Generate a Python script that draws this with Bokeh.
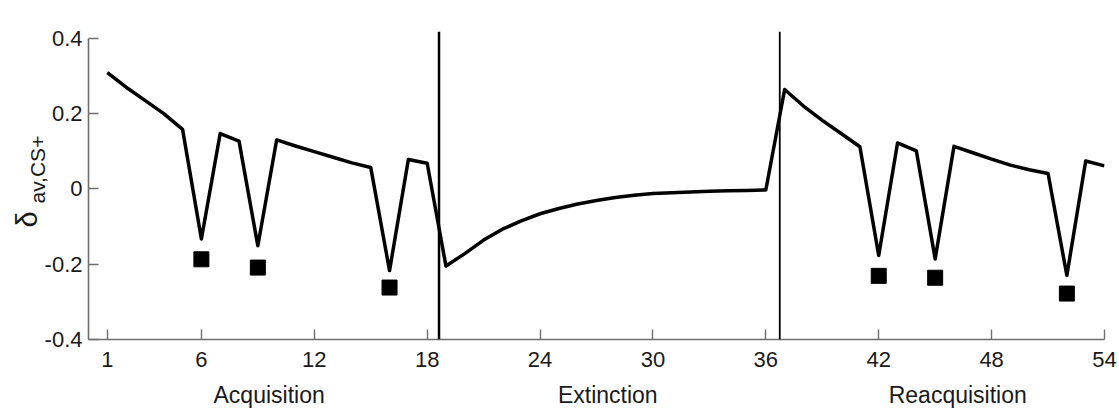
from bokeh.plotting import figure
from bokeh.models import Range1d, FixedTicker, Span, ColumnDataSource, LinearAxis, Title
from bokeh.embed import file_html
from bokeh.resources import INLINE

# ---- data ----
trials = list(range(1, 55))
delta_values = [
    0.309, 0.270, 0.235, 0.200, 0.158, -0.133, 0.147, 0.127, -0.151, 0.130,
    0.114, 0.099, 0.084, 0.069, 0.057, -0.217, 0.078, 0.068,
    -0.205, -0.172, -0.136, -0.107, -0.085, -0.066, -0.052, -0.040, -0.031,
    -0.023, -0.017, -0.012, -0.010, -0.008, -0.006, -0.005, -0.004, -0.003,
    0.264, 0.220, 0.182, 0.147, 0.112, -0.177, 0.122, 0.101, -0.186, 0.113,
    0.096, 0.079, 0.063, 0.051, 0.041, -0.230, 0.074, 0.061,
]
marker_trials = [6, 9, 16, 42, 45, 52]
marker_values = [-0.187, -0.209, -0.262, -0.231, -0.236, -0.278]
phase_boundaries = [18.63, 36.74]
phase_names = ["Acquisition", "Extinction", "Reacquisition"]
phase_centers = [9.6, 27.6, 46.2]
x_ticks = [1, 6, 12, 18, 24, 30, 36, 42, 48, 54]
y_ticks = [-0.4, -0.2, 0, 0.2, 0.4]
y_tick_labels = ["-0.4", "-0.2", "0", "0.2", "0.4"]
y_symbol = "δ"
y_subscript = "av,CS+"

FONT = "Liberation Sans"
TXT = "#1a1a1a"
AX = "#6e6e6e"

p = figure(width=1119, height=413, output_backend="svg", toolbar_location=None,
           x_range=Range1d(0, 54), y_range=Range1d(-0.4, 0.418),
           min_border_left=88, min_border_right=15, min_border_top=31,
           min_border_bottom=74)
p.outline_line_color = None
p.xgrid.grid_line_color = None
p.ygrid.grid_line_color = None
p.background_fill_color = "white"
p.border_fill_color = "white"

for ax in (p.xaxis[0], p.yaxis[0]):
    ax.axis_line_color = AX
    ax.axis_line_width = 1.6
    ax.major_tick_line_color = AX
    ax.major_tick_line_width = 1.4
    ax.major_tick_in = 10
    ax.major_tick_out = 0
    ax.minor_tick_line_color = None
    ax.major_label_text_font = FONT
    ax.major_label_text_font_size = "22px"
    ax.major_label_text_color = TXT

p.xaxis.ticker = FixedTicker(ticks=x_ticks)
p.xaxis.major_label_standoff = 12
p.yaxis.ticker = FixedTicker(ticks=y_ticks)
p.yaxis.bounds = (-0.4, 0.4)
p.yaxis.major_label_standoff = 6
p.yaxis.major_label_overrides = {t: s for t, s in zip(y_ticks, y_tick_labels)}

# phase names under the tick labels
phase_axis = LinearAxis(ticker=FixedTicker(ticks=phase_centers),
                        major_label_overrides={c: n for c, n in zip(phase_centers, phase_names)})
phase_axis.axis_line_color = None
phase_axis.major_tick_line_color = None
phase_axis.minor_tick_line_color = None
phase_axis.major_tick_in = 0
phase_axis.major_tick_out = 0
phase_axis.major_label_text_font = FONT
phase_axis.major_label_text_font_size = "23px"
phase_axis.major_label_text_color = TXT
phase_axis.major_label_standoff = 12
p.add_layout(phase_axis, "below")

# y-axis label: subscript part (inner) and delta symbol (outer)
t_sub = Title(text=y_subscript, align="left", vertical_align="top", offset=136,
              standoff=-19, text_font=FONT, text_font_size="21px",
              text_font_style="normal", text_color=TXT)
p.add_layout(t_sub, "left")
t_del = Title(text=y_symbol, align="left", vertical_align="top", offset=112,
              standoff=-19, text_font=FONT, text_font_size="29px",
              text_font_style="normal", text_color=TXT)
p.add_layout(t_del, "left")

for i, b in enumerate(phase_boundaries):
    p.add_layout(Span(location=b, dimension="height", line_color="black",
                      line_width=2.5 if i == 0 else 1.8))

src = ColumnDataSource(dict(x=trials, y=delta_values))
p.line("x", "y", source=src, line_color="black", line_width=3.5, line_join="round")

msrc = ColumnDataSource(dict(x=marker_trials, y=marker_values))
p.scatter("x", "y", source=msrc, marker="square", size=15, fill_color="black",
          line_color="black")

open("out.html", "w").write(file_html(p, INLINE))
